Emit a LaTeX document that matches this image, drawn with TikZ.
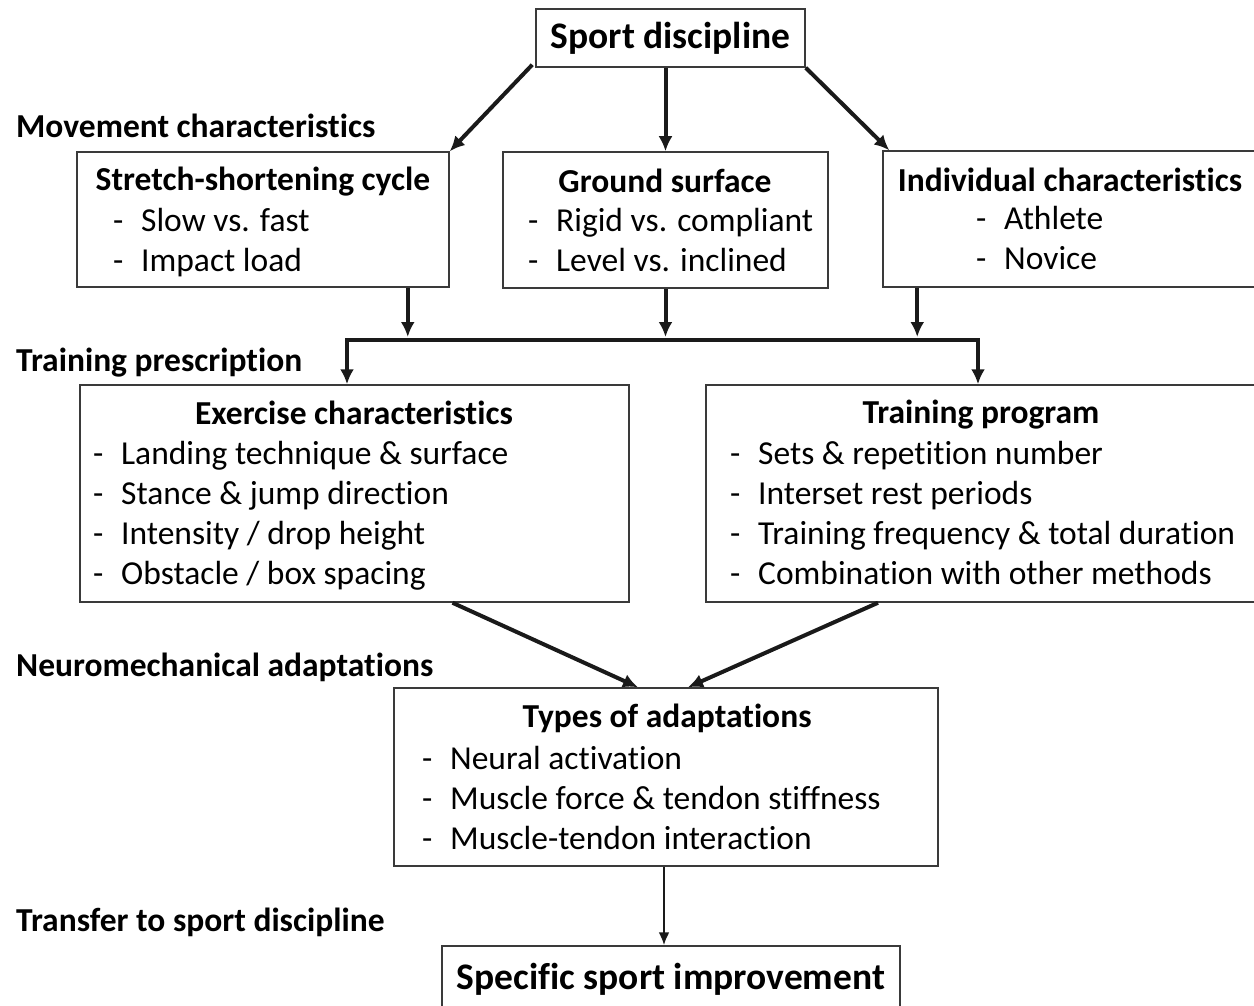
\documentclass[tikz,border=0pt]{standalone}
\usepackage{fontspec}
\setmainfont[Ligatures=NoCommon]{Carlito}
\usetikzlibrary{arrows.meta,positioning}
\definecolor{rahmen}{HTML}{3A3A3A}
\definecolor{pfeilf}{HTML}{1A1A1A}
\tikzset{
  box/.style={draw=rahmen,line width=1.5pt,inner sep=0pt},
  pfeil/.style={-{Latex[length=15pt,width=14pt]},pfeilf,line width=4pt},
  doppel/.style={pfeil,{Latex[length=15pt,width=14pt]}-{Latex[length=15pt,width=14pt]},line join=miter},
  duenn/.style={-{Latex[length=13pt,width=11pt]},pfeilf,line width=2.2pt},
  kopf/.style={font=\fontsize{33.5}{40}\selectfont\bfseries,inner sep=0pt},
  stufe/.style={kopf,anchor=west},
  liste/.style={font=\fontsize{33.5}{40}\selectfont,align=left,anchor=west,inner sep=0pt},
  gross/.style={box,font=\fontsize{37.5}{44}\selectfont\bfseries},
}
\newcommand{\strich}[1]{\makebox[28pt][l]{-}#1}

\begin{document}
\begin{tikzpicture}[x=1pt,y=-1pt]
  \useasboundingbox (0,0) rectangle (1254,1006);
  % Stufen links
  \node[stufe] (lbew) at (16,126) {Movement characteristics};
  \node[stufe] (ltrain) at (16,363) {Training prescription};
  \node[stufe] (lneuro) at (16,667) {Neuromechanical adaptations};
  \node[stufe] (ltrans) at (16,922) {Transfer to sport discipline};
  % Sportart
  \node[gross,minimum width=269pt,minimum height=58pt] (sport) at (670.5,38) {Sport discipline};
  % Bewegungsmerkmale
  \node[box,minimum width=372pt,minimum height=135pt] (ssc) at (263,219.5) {};
  \node[kopf] (ssck) at (263,182) {Stretch-shortening cycle};
  \node[liste] (sscl) at (113,243) {\strich{Slow vs. fast}\\\strich{Impact load}};
  \node[box,minimum width=325pt,minimum height=136pt] (gnd) at (665.5,220) {};
  \node[kopf] (gndk) at (665,181) {Ground surface};
  \node[liste] (gndl) at (528,240) {\strich{Rigid vs. compliant}\\\strich{Level vs. inclined}};
  \node[box,minimum width=377pt,minimum height=136pt] (ind) at (1071.5,219) {};
  \node[kopf] (indk) at (1070,180) {Individual characteristics};
  \node[liste] (indl) at (976,238) {\strich{Athlete}\\\strich{Novice}};
  % Trainingsvorgabe
  \node[box,minimum width=549pt,minimum height=217pt] (exc) at (354.5,493.5) {};
  \node[kopf] (exck) at (354,413) {Exercise characteristics};
  \node[liste] (excl) at (93,516) {\strich{Landing technique \& surface}\\\strich{Stance \& jump direction}\\
    \strich{Intensity / drop height}\\\strich{Obstacle / box spacing}};
  \node[box,minimum width=554pt,minimum height=217pt] (prog) at (983,493.5) {};
  \node[kopf] (progk) at (981,415) {Training program};
  \node[liste] (progl) at (730,513) {\strich{Sets \& repetition number}\\\strich{Interset rest periods}\\
    \strich{Training frequency \& total duration}\\\strich{Combination with other methods}};
  % Anpassungen
  \node[box,minimum width=544pt,minimum height=178pt] (typ) at (666,777) {};
  \node[kopf] (typk) at (667,718) {Types of adaptations};
  \node[liste] (typl) at (422,798) {\strich{Neural activation}\\\strich{Muscle force \& tendon stiffness}\\
    \strich{Muscle-tendon interaction}};
  \node[gross,minimum width=458pt,minimum height=66pt] (spec) at (671,979) {Specific sport improvement};
  % Pfeile
  \draw[pfeil] ([shift={(-3pt,3pt)}]sport.south west) -- (ssc.north east);
  \draw[pfeil] (sport.south -| gnd.north) -- (gnd.north);
  \draw[pfeil] (sport.south east) -- ([xshift=7pt]ind.north west);
  \coordinate (bl) at (347,340);
  \coordinate (br) at (978,340);
  \draw[pfeil,shorten >=3pt] ([xshift=-42pt]ssc.south east) -- ([xshift=-42pt]ssc.south east |- bl);
  \draw[pfeil,shorten >=3pt] (gnd.south) -- (gnd.south |- bl);
  \draw[pfeil,shorten >=3pt] ([xshift=35pt]ind.south west) -- ([xshift=35pt]ind.south west |- bl);
  \draw[doppel] (bl |- exc.north) -- (bl) -- (br) -- (br |- prog.north);
  \draw[pfeil] ([xshift=98pt]exc.south) -- ([xshift=-28pt]typ.north);
  \draw[pfeil] ([xshift=-105pt]prog.south) -- ([xshift=22pt]typ.north);
  \draw[duenn] (typ.south -| 664,0) -- (spec.north -| 664,0);
\end{tikzpicture}
\end{document}
